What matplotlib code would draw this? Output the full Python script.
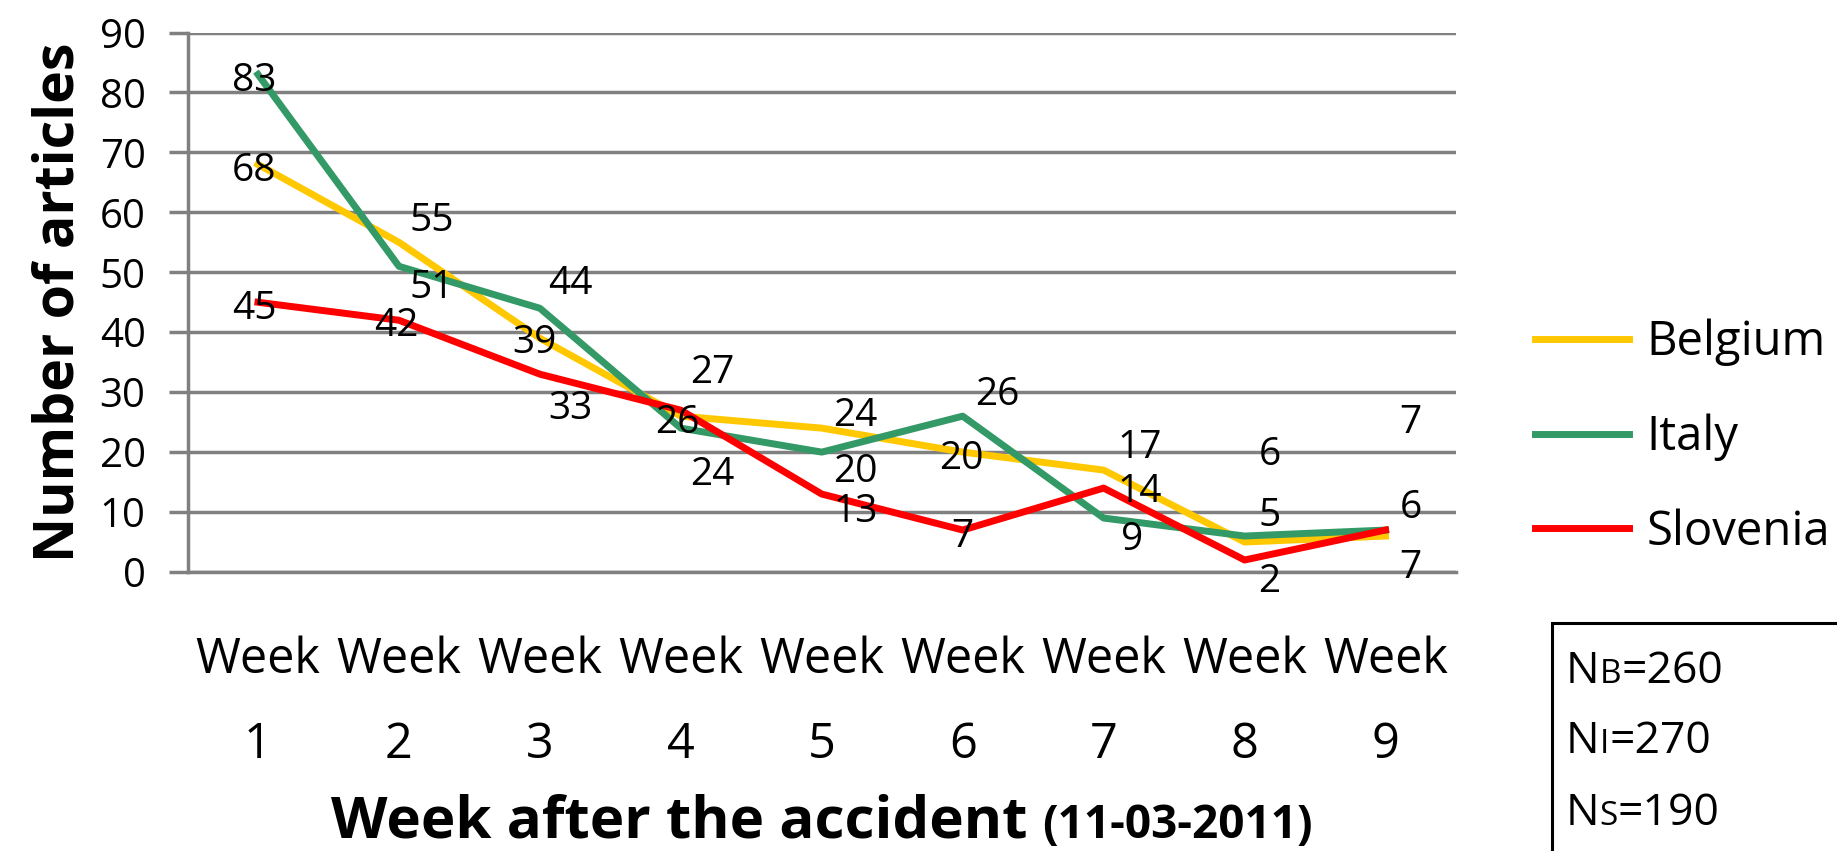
import matplotlib
matplotlib.use('Agg')
import matplotlib.pyplot as plt
from matplotlib.patches import Rectangle

# data
weeks = ['Week\n%d' % i for i in range(1, 10)]
countries = ['Belgium', 'Italy', 'Slovenia']
belgium = [68, 55, 39, 26, 24, 20, 17, 5, 6]
italy = [83, 51, 44, 24, 20, 26, 9, 6, 7]
slovenia = [45, 42, 33, 27, 13, 7, 14, 2, 7]
totals_keys = ['B', 'I', 'S']
totals = [260, 270, 190]

colors = ['#FFC800', '#339966', '#FF0000']

# label offsets in pixels (dx right, dy down) relative to each point
label_offsets = {
    'Belgium': [(-4, 2), (33, -26), (-5, 0), (-3, 2), (34, -17), (-1, 2), (36, -27), (25, -31), (25, -33)],
    'Italy': [(-4, 2), (33, 17), (31, -29), (32, 42), (34, 15), (35, -26), (28, 17), (25, -86), (25, -112)],
    'Slovenia': [(-4, 2), (-3, 1), (31, 30), (32, -42), (34, 13), (0, 2), (36, -1), (25, 17), (25, 33)],
}

plt.rcParams['font.family'] = ['Open Sans', 'DejaVu Sans']

W, H = 1837, 851
fig = plt.figure(figsize=(W / 100, H / 100), dpi=100)
ax = fig.add_axes([187.5 / W, 1 - 572 / H, 1268.5 / W, 539.5 / H])

x = list(range(1, 10))
series = [belgium, italy, slovenia]
for vals, col, name in zip(series, colors, countries):
    ax.plot(x, vals, color=col, lw=5, label=name)

for vals, name in zip(series, countries):
    for xi, v, (dx, dy) in zip(x, vals, label_offsets[name]):
        ax.annotate(str(v), (xi, v), xytext=(dx, -dy), textcoords='offset pixels',
                    ha='center', va='center_baseline', fontsize=28, color='black')

ax.set_xlim(0.5, 9.5)
ax.set_ylim(0, 90)
ax.set_yticks(range(0, 91, 10))
ax.set_xticks(x)
ax.set_xticklabels(weeks, fontsize=35, linespacing=1.94)
ax.grid(axis='y', color='#808080', lw=2.5)
ax.set_axisbelow(True)
for s in ['top', 'right']:
    ax.spines[s].set_visible(False)
for s in ['left', 'bottom']:
    ax.spines[s].set_color('#808080')
    ax.spines[s].set_linewidth(2.5)
ax.tick_params(axis='y', length=13.7, width=2.5, color='#808080', pad=16.5, labelsize=29)
ax.tick_params(axis='x', length=0, pad=46)

ax.set_ylabel('Number of articles', fontsize=40, fontweight='bold')
ax.yaxis.set_label_coords(-0.080, 0.5)

ax.legend(loc='upper left', bbox_to_anchor=(1535 / W, 1 - 319 / H), bbox_transform=fig.transFigure,
          frameon=False, fontsize=34, handlelength=2.0, handletextpad=0.36,
          labelspacing=1.0, borderpad=0, borderaxespad=0)

r = fig.canvas.get_renderer()

# x axis title, two sizes on one baseline
base_y = 1 - 838 / H
t1 = fig.text(0, base_y, 'Week after the accident ', fontsize=42, fontweight='bold', va='baseline')
t2 = fig.text(0, base_y, '(11-03-2011)', fontsize=33, fontweight='bold', va='baseline')
w1 = t1.get_window_extent(r).width
w2 = t2.get_window_extent(r).width
x0 = 822 - (w1 + w2) / 2
t1.set_x(x0 / W)
t2.set_x((x0 + w1) / W)

# N box
fig.add_artist(Rectangle((1552 / W, -0.1), 0.5, 1 - 623 / H + 0.1, transform=fig.transFigure,
                         fill=False, ec='black', lw=2.2))
for key, n, yb in zip(totals_keys, totals, [683, 753, 825]):
    y = 1 - yb / H
    a = fig.text(1566 / W, y, 'N', fontsize=32, va='baseline')
    xa = a.get_window_extent(r).x1
    b = fig.text(xa / W, y, key, fontsize=24, va='baseline')
    xb = b.get_window_extent(r).x1
    fig.text(xb / W, y, '=%d' % n, fontsize=32, va='baseline')

fig.savefig('out.png', dpi=100)
